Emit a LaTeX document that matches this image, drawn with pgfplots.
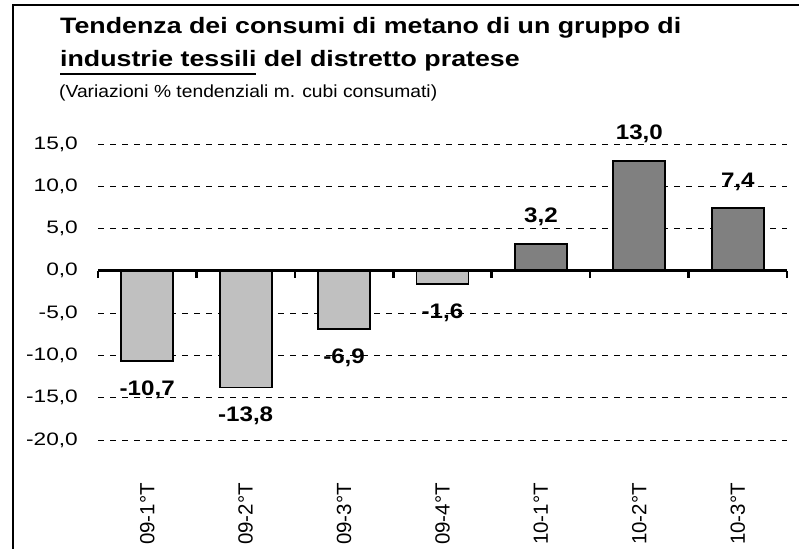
\documentclass[border=0pt]{standalone}
\usepackage{pgfplots}
\pgfplotsset{compat=1.18}
\usepackage{pgfplotstable}
\usepackage{fontspec}
\setmainfont{Liberation Sans}
\newfontfamily\titlefont{Liberation Sans}[FakeStretch=1.2]
\newfontfamily\subfont{Liberation Sans}[FakeStretch=1.1]
\newfontfamily\tickfont{Liberation Sans}[FakeStretch=1.26]
\newfontfamily\lblfont{Liberation Sans}[FakeStretch=1.15]
\definecolor{neggray}{HTML}{C0C0C0}
\definecolor{posgray}{HTML}{808080}
\newcommand\ul[1]{\leavevmode\vtop{\hbox{#1}\kern 5.5pt\hrule height 1.8pt}}

\pgfplotstableread{
x y lbl
0 -10.7 -10,7
1 -13.8 -13,8
2 -6.9 -6,9
3 -1.6 -1,6
}\negdata
\pgfplotstableread{
x y lbl
4 3.2 3,2
5 13.0 13,0
6 7.4 7,4
}\posdata

\begin{document}
\begin{tikzpicture}
\path[use as bounding box] (0pt,0pt) rectangle (799pt,548pt);
% frame
\draw[line width=1.6pt, black] (13pt,-5pt) -- (13pt,543pt) -- (805pt,543pt);
% titles
\node[anchor=base west, inner sep=0pt] at (60pt,514pt)
  {\titlefont\bfseries\fontsize{22.3}{26}\selectfont Tendenza dei consumi di metano di un gruppo di};
\node[anchor=base west, inner sep=0pt] at (60pt,481pt)
  {\titlefont\bfseries\fontsize{22.3}{26}\selectfont \ul{industrie tessili} del distretto pratese};
\node[anchor=base west, inner sep=0pt] at (59pt,450pt)
  {\subfont\fontsize{17.5}{20}\selectfont (Variazioni \% tendenziali m. cubi consumati)};

\begin{axis}[
  at={(98pt,108pt)}, anchor=south west,
  scale only axis, width=689pt, height=296pt,
  xmin=-0.5, xmax=6.5, ymin=-20, ymax=15,
  clip=false,
  axis line style={draw=none},
  major tick length=0pt,
  ytick={-20,-15,-10,-5,0,5,10,15},
  yticklabels={{-20,0},{-15,0},{-10,0},{-5,0},{0,0},{5,0},{10,0},{15,0}},
  yticklabel style={anchor=east, inner ysep=0pt, inner xsep=20pt, font=\tickfont\fontsize{18}{20}\selectfont},
  xtick={0,1,2,3,4,5,6},
  xticklabels={09-1°T,09-2°T,09-3°T,09-4°T,10-1°T,10-2°T,10-3°T},
  xticklabel style={rotate=90, anchor=east, inner ysep=0pt, inner xsep=43pt, font=\fontsize{20.5}{22}\selectfont},
  ymajorgrids,
  major grid style={black, line width=0.8pt, dash pattern=on 6pt off 6pt},
]
\addplot[ybar, bar width=52pt, bar shift=0pt, fill=neggray, draw=black, line width=1.8pt,
  nodes near coords, point meta=explicit symbolic,
  every node near coord/.append style={anchor=north, inner xsep=0pt, inner ysep=18.5pt, text=black,
    font=\lblfont\bfseries\fontsize{21}{23}\selectfont}]
  table[x=x, y=y, meta=lbl]{\negdata};
\addplot[ybar, bar width=52pt, bar shift=0pt, fill=posgray, draw=black, line width=1.8pt,
  nodes near coords, point meta=explicit symbolic,
  every node near coord/.append style={anchor=south, inner xsep=0pt, inner ysep=17pt, text=black,
    font=\lblfont\bfseries\fontsize{21}{23}\selectfont}]
  table[x=x, y=y, meta=lbl]{\posdata};
\draw[line width=3pt, black] (axis cs:-0.5,0) -- (axis cs:6.5,0);
\pgfplotsinvokeforeach{-0.5,0.5,1.5,2.5,3.5,4.5,5.5,6.5}{
  \draw[line width=2.5pt, black] (axis cs:#1,0) -- ++(0pt,-7pt);
}
\end{axis}
\end{tikzpicture}
\end{document}
